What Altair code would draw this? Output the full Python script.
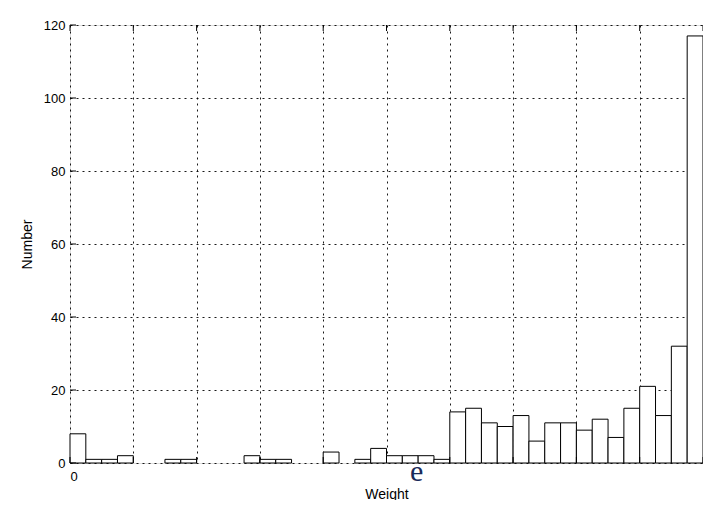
import altair as alt
import pandas as pd

counts = [8, 1, 1, 2, 0, 0, 1, 1, 0, 0,
          0, 2, 1, 1, 0, 0, 3, 0, 1, 4,
          2, 2, 2, 1, 14, 15, 11, 10, 13, 6,
          11, 11, 9, 12, 7, 15, 21, 13, 32, 117]
x_grid = [0, 4, 8, 12, 16, 20, 24, 28, 32, 36, 40]
y_ticks = [0, 20, 40, 60, 80, 100, 120]

bars = pd.DataFrame({
    "start": list(range(len(counts))),
    "end": [i + 1 for i in range(len(counts))],
    "count": counts,
})
yt = pd.DataFrame({"y": y_ticks})
xt = pd.DataFrame({"x": x_grid})
lab = pd.DataFrame({"x": [21.9], "t": ["e"]})

FONT = "Liberation Sans"
W, H = 633, 438

xscale = alt.Scale(domain=[0, 40], nice=False, zero=False)
yscale = alt.Scale(domain=[0, 120], nice=False)

bar = alt.Chart(bars).transform_filter("datum.count > 0").mark_bar(
    fill="white", stroke="black", strokeWidth=1, opacity=1).encode(
    x=alt.X("start:Q", scale=xscale,
            axis=alt.Axis(values=x_grid, grid=True, ticks=False, domain=False,
                          labelExpr="datum.value == 0 ? '0' : ''",
                          labelFont=FONT, labelFontSize=13, labelColor="black", labelPadding=7,
                          gridColor="black", gridDash=[2, 4], gridWidth=1, gridOpacity=0.9,
                          title="Weight", titleFont=FONT, titleFontSize=14,
                          titleFontWeight="normal", titleColor="black", titlePadding=4)),
    x2="end:Q",
    y=alt.Y("count:Q", scale=yscale,
            axis=alt.Axis(values=y_ticks, grid=True, ticks=False, domain=False,
                          labelFont=FONT, labelFontSize=13, labelColor="black", labelPadding=5,
                          gridColor="black", gridDash=[2, 4], gridWidth=1, gridOpacity=0.9,
                          title="Number", titleFont=FONT, titleFontSize=14,
                          titleFontWeight="normal", titleColor="black", titlePadding=9)),
    y2=alt.datum(0),
)

ytick = alt.Chart(yt).mark_rule(color="black", strokeWidth=1).encode(
    y=alt.Y("y:Q", scale=yscale), x=alt.value(0), x2=alt.value(6))

xtick_b = alt.Chart(xt).mark_rule(color="black", strokeWidth=1).encode(
    x=alt.X("x:Q", scale=xscale), y=alt.value(H), y2=alt.value(H - 6))
xtick_t = alt.Chart(xt).mark_rule(color="black", strokeWidth=1).encode(
    x=alt.X("x:Q", scale=xscale), y=alt.value(0), y2=alt.value(6))

etext = alt.Chart(lab).mark_text(font="Liberation Serif", fontSize=30, baseline="alphabetic",
                                 align="center", color="#1a2a5a").encode(
    x=alt.X("x:Q", scale=xscale), y=alt.value(456), text="t:N")

chart = alt.layer(bar, xtick_t, xtick_b, ytick, etext).properties(
    width=W, height=H,
    autosize=alt.AutoSizeParams(type="none"),
    padding={"left": 62, "top": 17, "right": 0, "bottom": 37},
).configure_view(stroke="black", strokeWidth=1).configure(background="white")

chart.save("out.html", embed_options={"renderer": "svg", "actions": False})
